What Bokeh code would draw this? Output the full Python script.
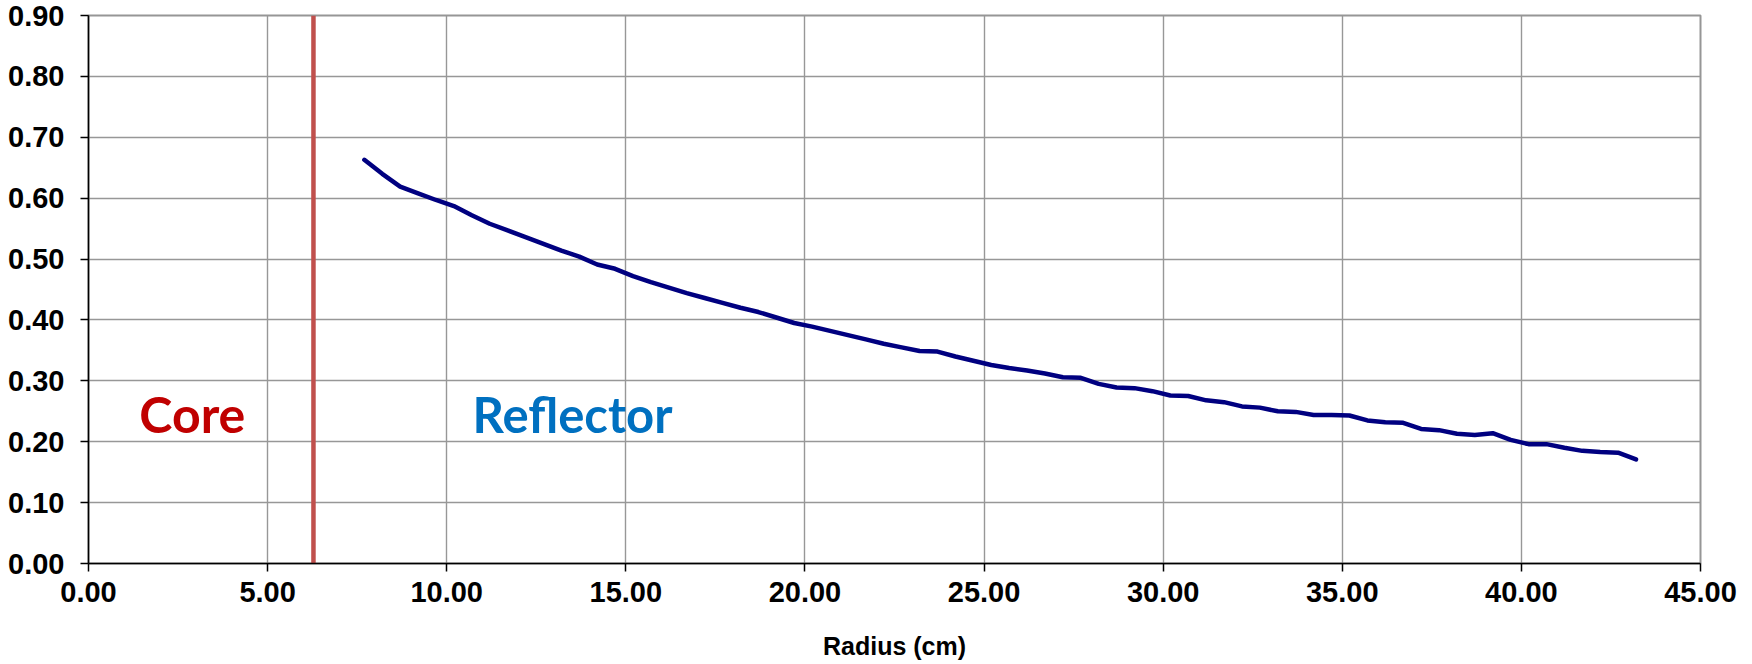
from bokeh.plotting import figure
from bokeh.models import Range1d, SingleIntervalTicker, PrintfTickFormatter
from bokeh.core.properties import value
from bokeh.embed import file_html
from bokeh.resources import INLINE

# ---- data ----
radius_cm = [7.7, 8.2, 8.7, 9.2, 9.7, 10.2, 10.7, 11.2, 11.7, 12.2,
             12.7, 13.2, 13.7, 14.2, 14.7, 15.2, 15.7, 16.2, 16.7, 17.2,
             17.7, 18.2, 18.7, 19.2, 19.7, 20.2, 20.7, 21.2, 21.7, 22.2,
             22.7, 23.2, 23.7, 24.2, 24.7, 25.2, 25.7, 26.2, 26.7, 27.2,
             27.7, 28.2, 28.7, 29.2, 29.7, 30.2, 30.7, 31.2, 31.7, 32.2,
             32.7, 33.2, 33.7, 34.2, 34.7, 35.2, 35.7, 36.2, 36.7, 37.2,
             37.7, 38.2, 38.7, 39.2, 39.7, 40.2, 40.7, 41.2, 41.7, 42.2,
             42.7, 43.2]
values = [0.663, 0.640, 0.619, 0.608, 0.597, 0.587, 0.572, 0.558, 0.547, 0.536,
          0.525, 0.514, 0.504, 0.491, 0.484, 0.472, 0.462, 0.453, 0.444, 0.436,
          0.428, 0.420, 0.413, 0.404, 0.395, 0.389, 0.382, 0.375, 0.368, 0.361,
          0.355, 0.349, 0.348, 0.340, 0.333, 0.326, 0.321, 0.317, 0.312, 0.306,
          0.305, 0.295, 0.289, 0.288, 0.283, 0.276, 0.275, 0.268, 0.265, 0.258,
          0.256, 0.250, 0.249, 0.244, 0.244, 0.243, 0.235, 0.232, 0.231, 0.221,
          0.219, 0.213, 0.211, 0.214, 0.203, 0.196, 0.196, 0.190, 0.185, 0.183,
          0.182, 0.171]

core_boundary_x = [6.28, 6.28]
core_boundary_y = [0.0, 0.9]

region_names = ["Core", "Reflector"]
region_x = [1.42, 10.72]
region_y = [0.246, 0.246]

x_axis_title = "Radius (cm)"

# ---- figure ----
p = figure(width=1752, height=664, output_backend="svg", toolbar_location=None,
           x_range=Range1d(0, 45), y_range=Range1d(0, 0.9),
           min_border_left=88, min_border_right=52, min_border_top=15,
           min_border_bottom=101, background_fill_color="white",
           border_fill_color="white")

p.outline_line_color = "#969696"
p.outline_line_width = 2

grid_color = "#979797"
p.xgrid.grid_line_color = grid_color
p.ygrid.grid_line_color = grid_color
p.xgrid.grid_line_width = 1.4
p.ygrid.grid_line_width = 1.4

p.xaxis.ticker = SingleIntervalTicker(interval=5, num_minor_ticks=0)
p.yaxis.ticker = SingleIntervalTicker(interval=0.1, num_minor_ticks=0)
p.xaxis.formatter = PrintfTickFormatter(format="%.2f")
p.yaxis.formatter = PrintfTickFormatter(format="%.2f")
p.xgrid.ticker = p.xaxis.ticker
p.ygrid.ticker = p.yaxis.ticker

for ax in (p.xaxis, p.yaxis):
    ax.major_label_text_font = "Liberation Sans"
    ax.major_label_text_font_style = "bold"
    ax.major_label_text_font_size = "29px"
    ax.major_label_text_color = "black"
    ax.axis_line_color = "black"
    ax.axis_line_width = 1.5
    ax.major_tick_line_color = "black"
    ax.major_tick_line_width = 1.5
    ax.major_tick_out = 8
    ax.major_tick_in = 0
    ax.minor_tick_line_color = None

p.yaxis.major_label_standoff = 16
p.xaxis.major_label_standoff = 10

p.xaxis.axis_label = x_axis_title
p.xaxis.axis_label_text_font = "Liberation Sans"
p.xaxis.axis_label_text_font_style = "bold"
p.xaxis.axis_label_text_font_size = "25px"
p.xaxis.axis_label_text_color = "black"
p.xaxis.axis_label_standoff = 27

# core boundary
p.line(core_boundary_x, core_boundary_y, line_color="#C0504D", line_width=4.5)

# data line
p.line(radius_cm, values, line_color="#000080", line_width=4.5,
       line_join="round", line_cap="round")

# region labels
p.text(x=[region_x[0]], y=[region_y[0]], text=[region_names[0]],
       text_font=value("Lato"), text_font_style="bold", text_font_size="50px",
       text_color="#C00000", text_align="left", text_baseline="alphabetic")
p.text(x=[region_x[1]], y=[region_y[1]], text=[region_names[1]],
       text_font=value("Lato"), text_font_style="bold", text_font_size="49px",
       text_color="#0070C0", text_align="left", text_baseline="alphabetic")

open("out.html", "w").write(file_html(p, INLINE))
